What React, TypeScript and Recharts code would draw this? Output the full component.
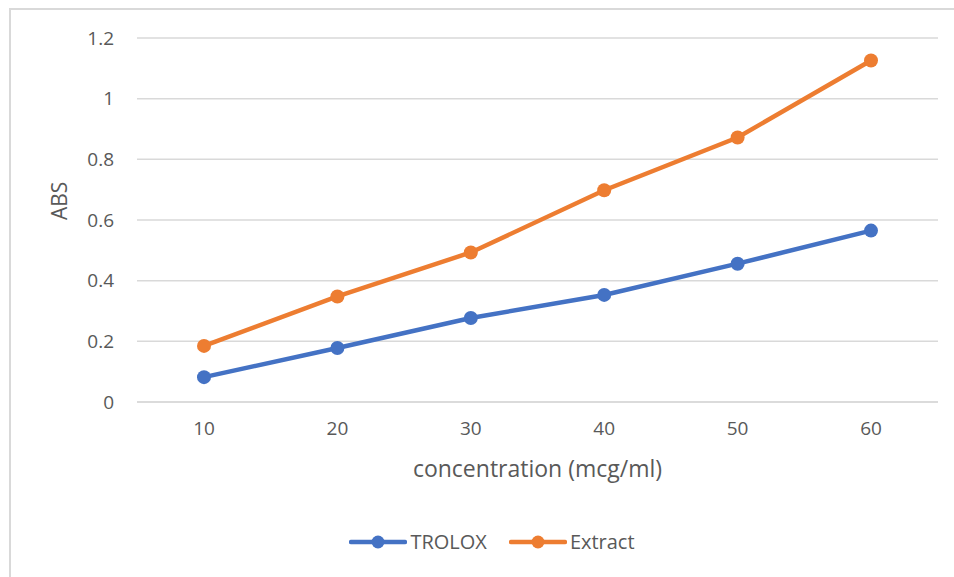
import React from 'react';
import { LineChart, Line, XAxis, YAxis, CartesianGrid, Legend } from 'recharts';

const concentrations = ['10', '20', '30', '40', '50', '60'];
const troloxValues = [0.082, 0.178, 0.277, 0.353, 0.456, 0.565];
const extractValues = [0.185, 0.348, 0.493, 0.698, 0.872, 1.126];
const yTicks = [0, 0.2, 0.4, 0.6, 0.8, 1, 1.2];

const data = concentrations.map((c, i) => ({
    conc: c,
    trolox: troloxValues[i],
    extract: extractValues[i],
}));

const FONT = '"Open Sans", "Noto Sans", sans-serif';
const TEXT = '#595959';
const GRID = '#d9d9d9';

const series = [
    { key: 'trolox', name: 'TROLOX', color: '#4472C4' },
    { key: 'extract', name: 'Extract', color: '#ED7D31' },
];

function ExcelLegend() {
    return (
        <div style={{ display: 'flex', justifyContent: 'center', alignItems: 'center', fontFamily: FONT, fontSize: 20, color: TEXT }}>
            {series.map((s, i) => (
                <div key={s.key} style={{ display: 'flex', alignItems: 'center', marginLeft: i > 0 ? 22 : 0 }}>
                    <svg width={58} height={16} style={{ marginRight: 3 }}>
                        <line x1={2} y1={8} x2={56} y2={8} stroke={s.color} strokeWidth={4.5} strokeLinecap="round" />
                        <circle cx={29} cy={8} r={6.5} fill={s.color} />
                    </svg>
                    <span>{s.name}</span>
                </div>
            ))}
        </div>
    );
}

export default function App() {
    return (
        <div style={{ position: 'absolute', left: 0, top: 0, width: 954, height: 577, background: '#fff' }}>
            {/* Excel frame: only top and left edges are visible in the crop */}
            <div style={{ position: 'absolute', left: 9, top: 8, right: 0, bottom: 0, borderTop: `2px solid ${GRID}`, borderLeft: `2px solid ${GRID}` }} />
            <LineChart
                width={954}
                height={577}
                data={data}
                margin={{ top: 38, right: 16, bottom: 0, left: 0 }}
                style={{ position: 'absolute', left: 0, top: 0 }}
            >
                <CartesianGrid vertical={false} stroke={GRID} strokeWidth={1.5} />
                <XAxis
                    dataKey="conc"
                    height={175}
                    padding={{ left: 67, right: 67 }}
                    axisLine={{ stroke: GRID, strokeWidth: 1.5 }}
                    tickLine={false}
                    tickSize={0}
                    tickMargin={20}
                    tick={{ fill: TEXT, fontSize: 19, fontFamily: FONT }}
                    label={{ value: 'concentration (mcg/ml)', position: 'insideTop', offset: 59, fill: TEXT, fontSize: 23, fontFamily: FONT }}
                />
                <YAxis
                    width={137}
                    domain={[0, 1.2]}
                    ticks={yTicks}
                    axisLine={false}
                    tickLine={false}
                    tickSize={0}
                    tickMargin={23}
                    tick={{ fill: TEXT, fontSize: 19, fontFamily: FONT }}
                    label={{ value: 'ABS', angle: -90, position: 'insideLeft', offset: 60, fill: TEXT, fontSize: 21, fontFamily: FONT }}
                />
                <Legend
                    verticalAlign="middle"
                    content={() => <ExcelLegend />}
                    wrapperStyle={{ top: 528, left: 30, width: 924 }}
                />
                {series.map((s) => (
                    <Line
                        key={s.key}
                        type="linear"
                        dataKey={s.key}
                        name={s.name}
                        stroke={s.color}
                        strokeWidth={4.5}
                        dot={{ r: 7, fill: s.color, stroke: s.color, strokeWidth: 0 }}
                        isAnimationActive={false}
                    />
                ))}
            </LineChart>
        </div>
    );
}
